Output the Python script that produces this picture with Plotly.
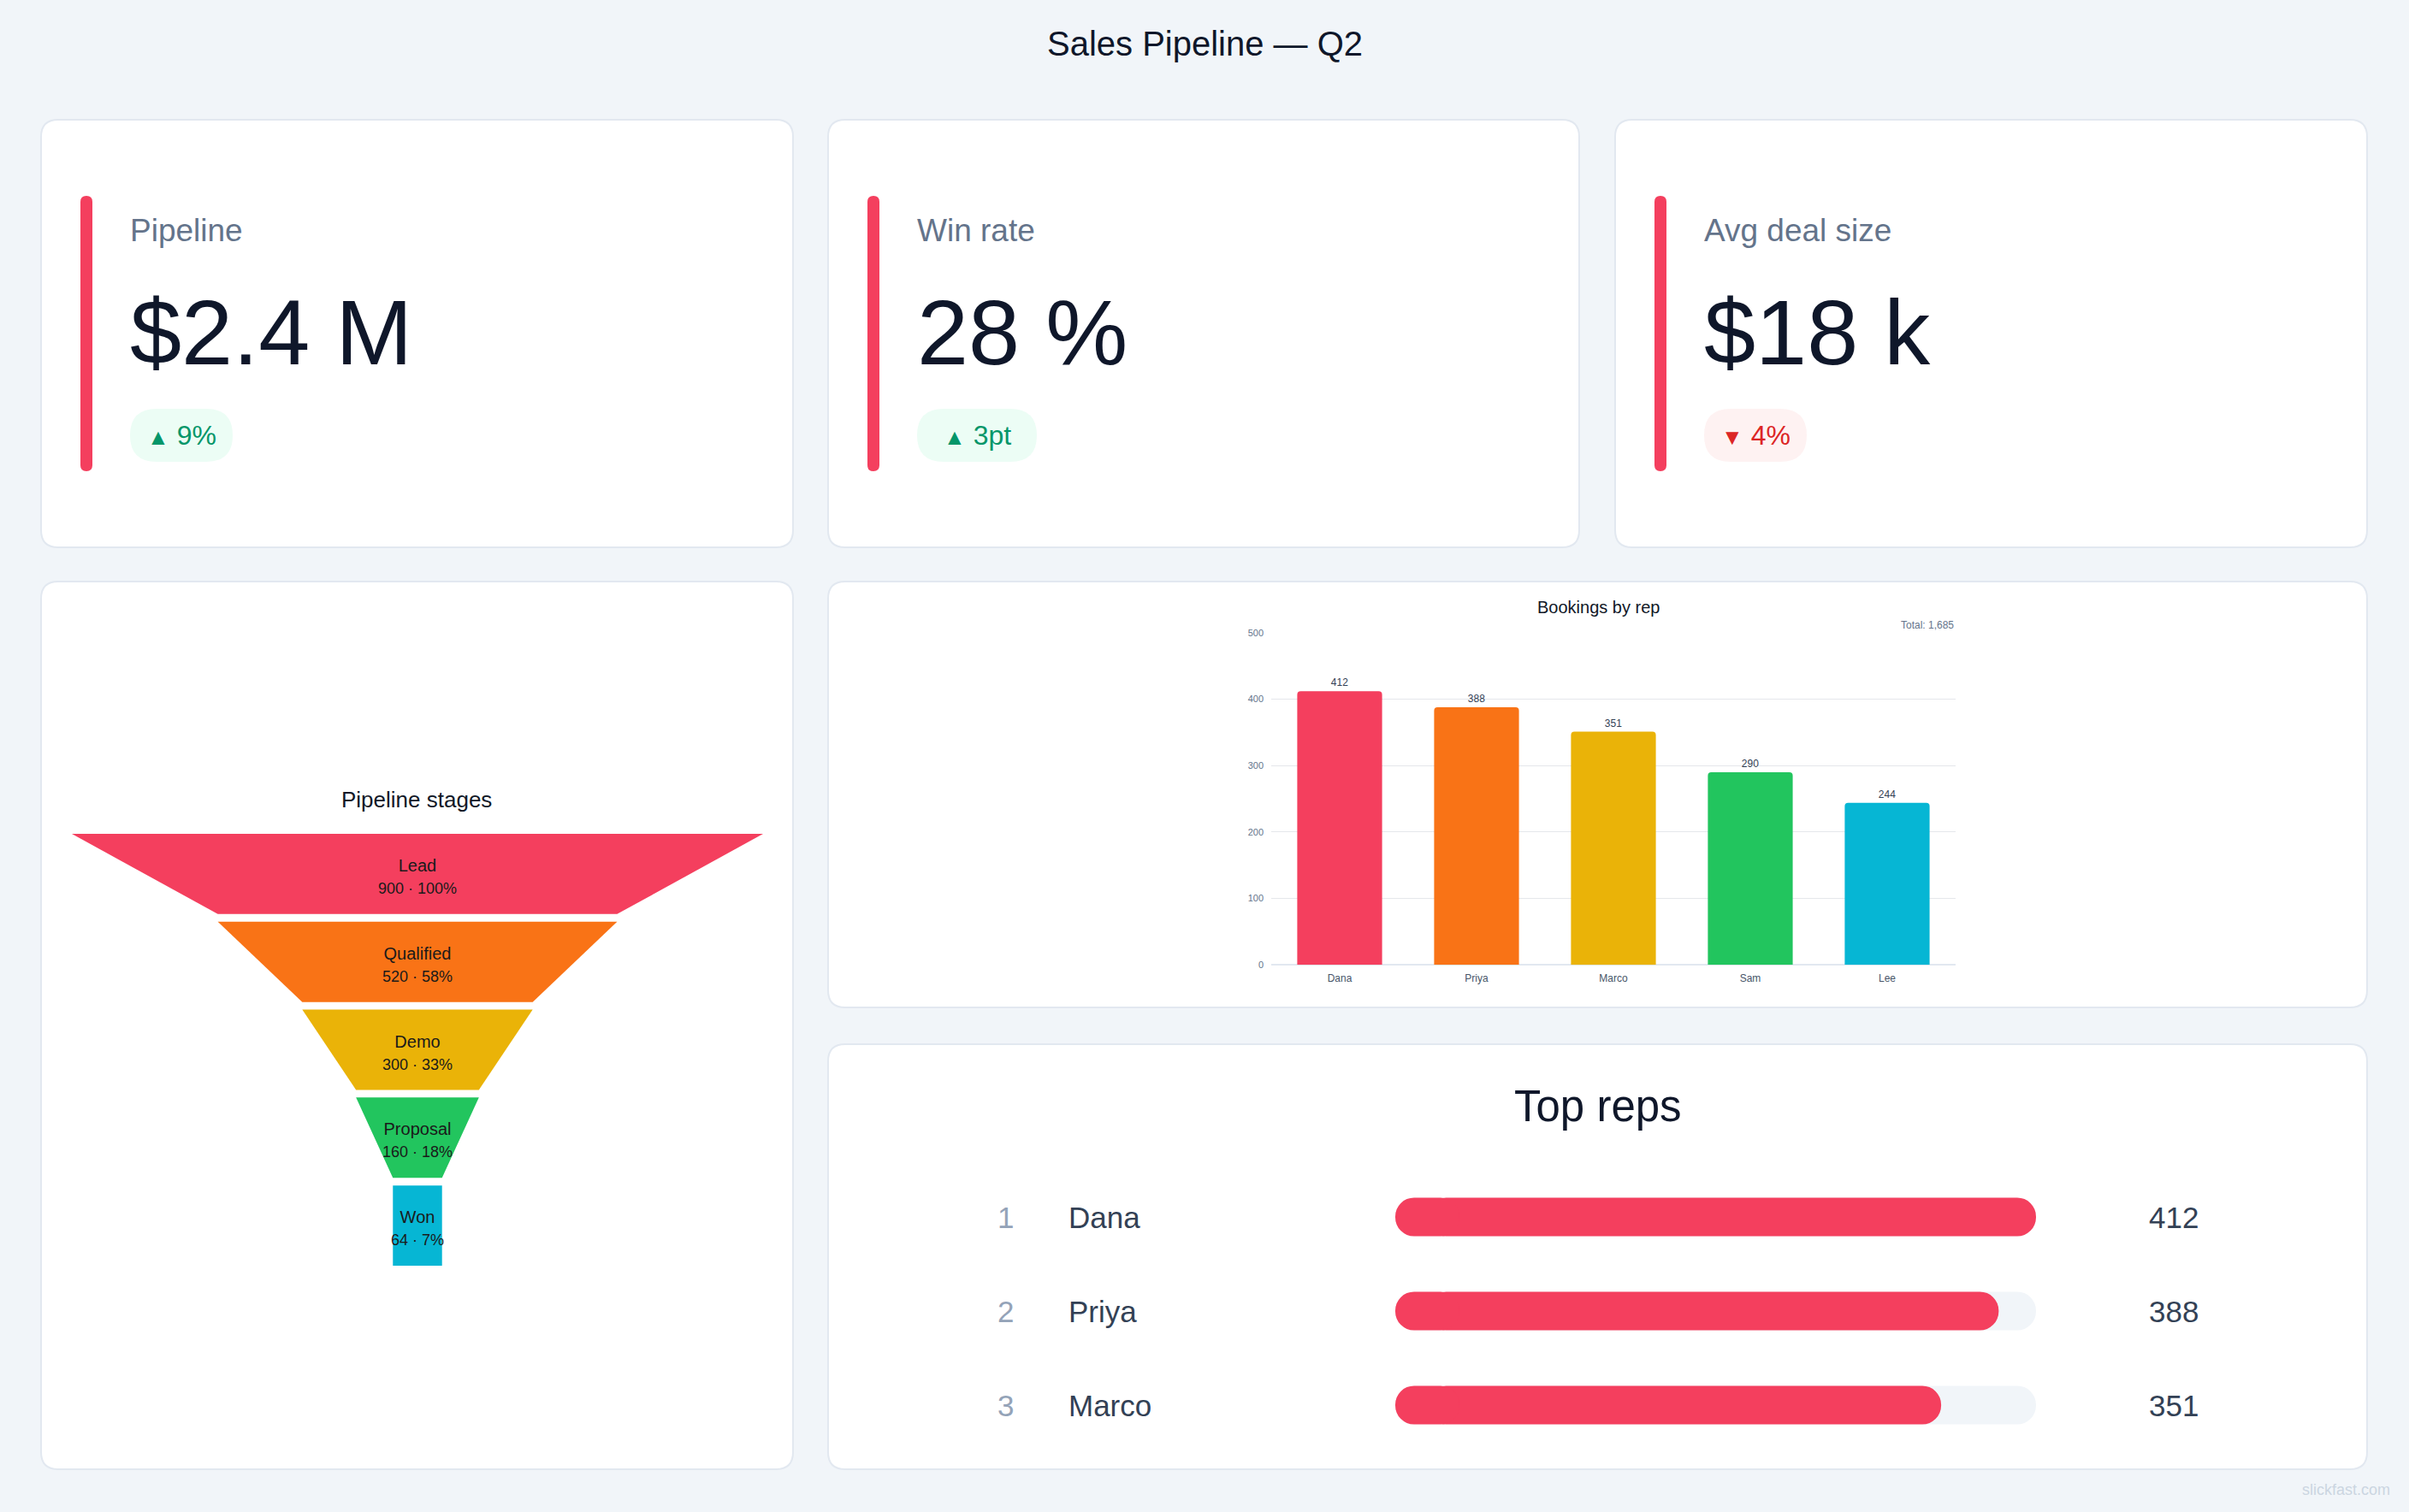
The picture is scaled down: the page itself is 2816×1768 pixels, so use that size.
import plotly.graph_objects as go

W, H = 2816, 1768
FONT = "Liberation Sans, Arial, sans-serif"

# ---------------- data ----------------
TITLE = "Sales Pipeline — Q2"
kpi_labels = ["Pipeline", "Win rate", "Avg deal size"]
kpi_values = ["$2.4 M", "28 %", "$18 k"]
kpi_deltas = ["9%", "3pt", "4%"]
kpi_dirs = ["up", "up", "down"]

stages = ["Lead", "Qualified", "Demo", "Proposal", "Won"]
stage_counts = [900, 520, 300, 160, 64]

reps = ["Dana", "Priya", "Marco", "Sam", "Lee"]
bookings = [412, 388, 351, 290, 244]
booking_ticks = [0, 100, 200, 300, 400, 500]

TOP_N = 3

# ---------------- style ----------------
palette = ["#f43f5e", "#f97316", "#eab308", "#22c55e", "#06b6d4"]
BG = "#f1f5f9"
CARD_BORDER = "#e2e8f0"
ACCENT = "#f43f5e"


def px(x):
    return x / W


def py(y):
    return 1 - y / H


def rrect(x0, y0, x1, y1, r, fill, line=None, lw=0):
    def P(x, y):
        return f"{px(x):.6f},{py(y):.6f}"
    path = (f"M {P(x0 + r, y0)} L {P(x1 - r, y0)} Q {P(x1, y0)} {P(x1, y0 + r)} "
            f"L {P(x1, y1 - r)} Q {P(x1, y1)} {P(x1 - r, y1)} "
            f"L {P(x0 + r, y1)} Q {P(x0, y1)} {P(x0, y1 - r)} "
            f"L {P(x0, y0 + r)} Q {P(x0, y0)} {P(x0 + r, y0)} Z")
    return dict(type="path", xref="paper", yref="paper", path=path,
                fillcolor=fill, line=dict(color=line or fill, width=lw),
                layer="below")


fig = go.Figure()
shapes = []
ann = []

# title
ann.append(dict(text=TITLE, x=px(W / 2), y=py(51), xref="paper", yref="paper",
                showarrow=False, font=dict(size=40, color="#0f172a", family=FONT),
                xanchor="center", yanchor="middle"))

# cards
kpi_cards = [(48, 140, 927, 640), (968, 140, 1846, 640), (1888, 140, 2767, 640)]
funnel_card = (48, 680, 927, 1718)
bar_card = (968, 680, 2767, 1178)
reps_card = (968, 1221, 2767, 1718)
for c in kpi_cards + [funnel_card, bar_card, reps_card]:
    shapes.append(rrect(*c, 20, "#ffffff", CARD_BORDER, 2))

# KPI contents
for i, (x0, y0, x1, y1) in enumerate(kpi_cards):
    shapes.append(rrect(x0 + 46, 229, x0 + 60, 551, 7, ACCENT))
    ann.append(dict(text=kpi_labels[i], x=px(x0 + 102), y=py(269), xref="paper", yref="paper",
                    showarrow=False, xanchor="left", yanchor="middle",
                    font=dict(size=37, color="#64748b", family=FONT)))
    ann.append(dict(text=kpi_values[i], x=px(x0 + 102), y=py(388), xref="paper", yref="paper",
                    showarrow=False, xanchor="left", yanchor="middle",
                    font=dict(size=108, color="#0f172a", family=FONT)))
    up = kpi_dirs[i] == "up"
    bw = 80 + 20 * len(kpi_deltas[i])
    bx0 = x0 + 104
    shapes.append(rrect(bx0, 478, bx0 + bw, 540, 31, "#ecfdf5" if up else "#fef2f2"))
    arrow = "▲" if up else "▼"
    ann.append(dict(text=f"<span style='font-size:26px'>{arrow}</span> {kpi_deltas[i]}",
                    x=px(bx0 + bw / 2), y=py(509), xref="paper", yref="paper",
                    showarrow=False, xanchor="center", yanchor="middle",
                    font=dict(size=32, color="#059669" if up else "#dc2626", family=FONT)))

# ---------------- funnel ----------------
FUNNEL_H = 0.913
n = len(stages)
for i in range(n):
    top = stage_counts[i] / 2
    bot = (stage_counts[i + 1] if i + 1 < n else stage_counts[i]) / 2
    fig.add_trace(go.Scatter(
        x=[-top, top, bot, -bot, -top], y=[i, i, i + FUNNEL_H, i + FUNNEL_H, i],
        mode="lines", fill="toself", fillcolor=palette[i],
        line=dict(color=palette[i], width=0), xaxis="x2", yaxis="y2",
        hoverinfo="skip", showlegend=False))
fig.add_trace(go.Scatter(
    x=[0] * n, y=[i + FUNNEL_H / 2 + 0.05 for i in range(n)], mode="text",
    text=[f"{s}<br><span style='font-size:18px'>{v} · {round(v / stage_counts[0] * 100)}%</span>"
          for s, v in zip(stages, stage_counts)],
    textfont=dict(size=20, color="#1a1a1a", family=FONT),
    xaxis="x2", yaxis="y2", hoverinfo="skip", showlegend=False))
ann.append(dict(text="Pipeline stages", x=px(487), y=py(935), xref="paper", yref="paper",
                showarrow=False, xanchor="center", yanchor="middle",
                font=dict(size=26, color="#111827", family=FONT)))

# ---------------- bar chart ----------------
fig.add_trace(go.Bar(
    x=reps, y=bookings, marker=dict(color=palette, cornerradius=4, line=dict(width=0)),
    text=bookings, textposition="outside", cliponaxis=False,
    textfont=dict(size=12, color="#334155", family=FONT),
    width=0.62, xaxis="x", yaxis="y", hoverinfo="skip", showlegend=False))
ann.append(dict(text="Bookings by rep", x=px(1868), y=py(710), xref="paper", yref="paper",
                showarrow=False, xanchor="center", yanchor="middle",
                font=dict(size=20, color="#111827", family=FONT)))
ann.append(dict(text=f"Total: {sum(bookings):,}", x=px(2286), y=py(731), xref="paper", yref="paper",
                showarrow=False, xanchor="right", yanchor="middle",
                font=dict(size=12, color="#64748b", family=FONT)))

# ---------------- top reps ----------------
order = sorted(range(len(reps)), key=lambda k: -bookings[k])[:TOP_N]
top_names = [reps[k] for k in order]
top_vals = [bookings[k] for k in order]
vmax = max(top_vals)
rows = list(range(len(top_names)))
BAR_W = 0.41
CAP = 0.10  # length of the left rounded cap piece, as share of the scale
for vals, col in [([vmax] * len(rows), "#f1f5f9"), (top_vals, ACCENT)]:
    # main piece: rounded at the value end
    fig.add_trace(go.Bar(
        y=rows, x=[v - vmax * CAP / 2 for v in vals], base=[vmax * CAP / 2] * len(rows),
        orientation="h", width=BAR_W,
        marker=dict(color=col, cornerradius="50%", line=dict(width=0)),
        xaxis="x3", yaxis="y3", hoverinfo="skip", showlegend=False))
    # left cap piece: rounded at zero
    fig.add_trace(go.Bar(
        y=rows, x=[-vmax * CAP] * len(rows), base=[vmax * CAP] * len(rows),
        orientation="h", width=BAR_W,
        marker=dict(color=col, cornerradius="50%", line=dict(width=0)),
        xaxis="x3", yaxis="y3", hoverinfo="skip", showlegend=False))
ann.append(dict(text="Top reps", x=px(1868), y=py(1293), xref="paper", yref="paper",
                showarrow=False, xanchor="center", yanchor="middle",
                font=dict(size=51, color="#0f172a", family=FONT)))
for r, (nm, v) in enumerate(zip(top_names, top_vals)):
    ann.append(dict(text=str(r + 1), x=px(1175), y=r, xref="paper", yref="y3",
                    showarrow=False, xanchor="center", yanchor="middle",
                    font=dict(size=35, color="#94a3b8", family=FONT)))
    ann.append(dict(text=nm, x=px(1247), y=r, xref="paper", yref="y3",
                    showarrow=False, xanchor="left", yanchor="middle",
                    font=dict(size=35, color="#334155", family=FONT)))
    ann.append(dict(text=str(v), x=px(2572), y=r, xref="paper", yref="y3",
                    showarrow=False, xanchor="right", yanchor="middle",
                    font=dict(size=35, color="#334155", family=FONT)))

# watermark
ann.append(dict(text="slickfast.com", x=px(2796), y=py(1742), xref="paper", yref="paper",
                showarrow=False, xanchor="right", yanchor="middle",
                font=dict(size=18, color="#cbd5e1", family=FONT)))

hidden = dict(visible=False, fixedrange=True, automargin=False)
fig.update_layout(
    width=W, height=H, autosize=False,
    margin=dict(l=0, r=0, t=0, b=0, pad=0, autoexpand=False),
    paper_bgcolor=BG, plot_bgcolor="rgba(0,0,0,0)",
    barmode="overlay", hovermode=False, showlegend=False,
    font=dict(family=FONT),
    shapes=shapes, annotations=ann,
    xaxis=dict(domain=[px(1486), px(2286)], anchor="y", type="category",
               showgrid=False, zeroline=False, showline=False, ticks="",
               ticklabelstandoff=7, automargin=False,
               tickfont=dict(size=12, color="#475569"), fixedrange=True),
    yaxis=dict(domain=[py(1128), py(740)], anchor="x", range=[0, 500],
               tickvals=booking_ticks, showgrid=True, gridcolor="#e5e7eb", gridwidth=1,
               zeroline=True, zerolinecolor="#e2e8f0", zerolinewidth=1.5, showline=False,
               ticks="", tickfont=dict(size=11, color="#64748b"), ticklabelstandoff=8,
               automargin=False, fixedrange=True),
    xaxis2=dict(domain=[px(84), px(892)], anchor="y2",
                range=[-stage_counts[0] / 2, stage_counts[0] / 2], **hidden),
    yaxis2=dict(domain=[py(1480), py(975)], anchor="x2", range=[n - 1 + FUNNEL_H, 0], **hidden),
    xaxis3=dict(domain=[px(1631), px(2380)], anchor="y3", range=[0, vmax], **hidden),
    yaxis3=dict(domain=[py(1698), py(1368)], anchor="x3", range=[len(rows) - 0.5, -0.5], **hidden),
)

fig.write_html("out.html")
